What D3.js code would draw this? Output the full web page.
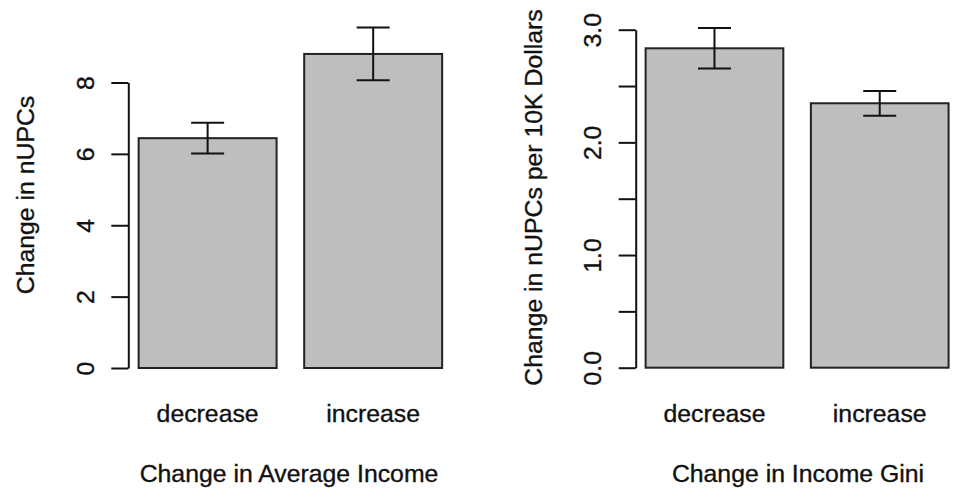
<!DOCTYPE html>
<html>
<head>
<meta charset="utf-8">
<script src="https://cdn.jsdelivr.net/npm/d3@7"></script>
<style>
  html, body { margin: 0; padding: 0; background: #ffffff; }
  svg { display: block; font-family: "Liberation Sans", Arial, sans-serif; }
  svg text { stroke: #111; stroke-width: 0.35px; paint-order: stroke; }
</style>
</head>
<body>
<svg id="chart" width="956" height="498"></svg>
<script>
// Category labels shared by both panels
const categories = ["decrease", "increase"];

// Panel 1: change in nUPCs by change in average income (mean and standard error)
const incomeMeans = [6.44, 8.80];
const incomeErrors = [0.43, 0.74];
const incomeTicks = [0, 2, 4, 6, 8];
const incomeTickLabels = [0, 2, 4, 6, 8];

// Panel 2: change in nUPCs per 10K dollars by change in income Gini
const giniMeans = [2.835, 2.347];
const giniErrors = [0.18, 0.11];
const giniTicks = [0, 0.5, 1, 1.5, 2, 2.5, 3];
const giniTickLabels = [0, 1, 2, 3];

const yTitles = ["Change in nUPCs", "Change in nUPCs per 10K Dollars"];
const xTitles = ["Change in Average Income", "Change in Income Gini"];

const FONT = 24.8;
const svg = d3.select("#chart");

// Layout of each panel (pixel geometry only)
const layouts = [
  { xDomain: [0.125, 2.475], xRange: [128.3, 452.5], yDomain: [0, 8], yRange: [368, 82.5],
    yTitleX: 33.5, yTitleY: 195, xTitleX: 289 },
  { xDomain: [0.128, 2.472], xRange: [635.7, 958.5], yDomain: [0, 3], yRange: [367.7, 29.7],
    yTitleX: 541.5, yTitleY: 197.5, xTitleX: 798 }
];

const panelData = [
  { means: incomeMeans, errors: incomeErrors, ticks: incomeTicks, labels: incomeTickLabels,
    fmt: d3.format("d") },
  { means: giniMeans, errors: giniErrors, ticks: giniTicks, labels: giniTickLabels,
    fmt: d3.format(".1f") }
];

const barWidth = 1, barSpace = 0.2;

panelData.forEach((pd, p) => {
  const L = layouts[p];
  const x = d3.scaleLinear().domain(L.xDomain).range(L.xRange);
  const y = d3.scaleLinear().domain(L.yDomain).range(L.yRange);
  const g = svg.append("g");

  const rows = categories.map((c, i) => ({
    cat: c,
    mean: pd.means[i],
    err: pd.errors[i],
    x0: barSpace + i * (barWidth + barSpace),
    x1: barSpace + i * (barWidth + barSpace) + barWidth
  }));

  // bars
  g.selectAll("rect.bar").data(rows).join("rect")
    .attr("class", "bar")
    .attr("x", d => x(d.x0))
    .attr("width", d => x(d.x1) - x(d.x0))
    .attr("y", d => y(d.mean))
    .attr("height", d => y(0) - y(d.mean))
    .attr("fill", "#bebebe")
    .attr("stroke", "#222")
    .attr("stroke-width", 2);

  // error bars
  const capHalf = 16.5;
  const eb = g.selectAll("g.err").data(rows).join("g").attr("class", "err")
    .attr("stroke", "#111").attr("stroke-width", 2).attr("fill", "none");
  eb.append("line")
    .attr("x1", d => x((d.x0 + d.x1) / 2)).attr("x2", d => x((d.x0 + d.x1) / 2))
    .attr("y1", d => y(d.mean + d.err)).attr("y2", d => y(d.mean - d.err));
  eb.append("line")
    .attr("x1", d => x((d.x0 + d.x1) / 2) - capHalf).attr("x2", d => x((d.x0 + d.x1) / 2) + capHalf)
    .attr("y1", d => y(d.mean + d.err)).attr("y2", d => y(d.mean + d.err));
  eb.append("line")
    .attr("x1", d => x((d.x0 + d.x1) / 2) - capHalf).attr("x2", d => x((d.x0 + d.x1) / 2) + capHalf)
    .attr("y1", d => y(d.mean - d.err)).attr("y2", d => y(d.mean - d.err));

  // y axis
  const axis = d3.axisLeft(y)
    .tickValues(pd.ticks)
    .tickSize(17)
    .tickSizeOuter(0)
    .tickFormat(v => pd.labels.includes(v) ? pd.fmt(v) : "");
  const ag = g.append("g").attr("transform", `translate(${L.xRange[0]},0)`).call(axis);
  ag.select(".domain").attr("stroke", "#111").attr("stroke-width", 2);
  ag.selectAll(".tick line").attr("stroke", "#111").attr("stroke-width", 2);
  ag.selectAll(".tick text")
    .attr("transform", "rotate(-90)")
    .attr("x", 0).attr("y", -34.5).attr("dy", null)
    .attr("text-anchor", "middle")
    .attr("fill", "#111")
    .style("font-size", FONT + "px")
    .style("font-family", "'Liberation Sans', Arial, sans-serif");

  // category labels
  g.selectAll("text.cat").data(rows).join("text")
    .attr("class", "cat")
    .attr("x", d => x((d.x0 + d.x1) / 2))
    .attr("y", 421.7)
    .attr("text-anchor", "middle")
    .attr("fill", "#111")
    .style("font-size", FONT + "px")
    .text(d => d.cat);

  // axis titles
  g.append("text")
    .attr("x", L.xTitleX).attr("y", 482)
    .attr("text-anchor", "middle").attr("fill", "#111")
    .style("font-size", FONT + "px")
    .text(xTitles[p]);
  g.append("text")
    .attr("transform", `translate(${L.yTitleX},${L.yTitleY}) rotate(-90)`)
    .attr("text-anchor", "middle").attr("fill", "#111")
    .style("font-size", FONT + "px")
    .text(yTitles[p]);
});
</script>
</body>
</html>
